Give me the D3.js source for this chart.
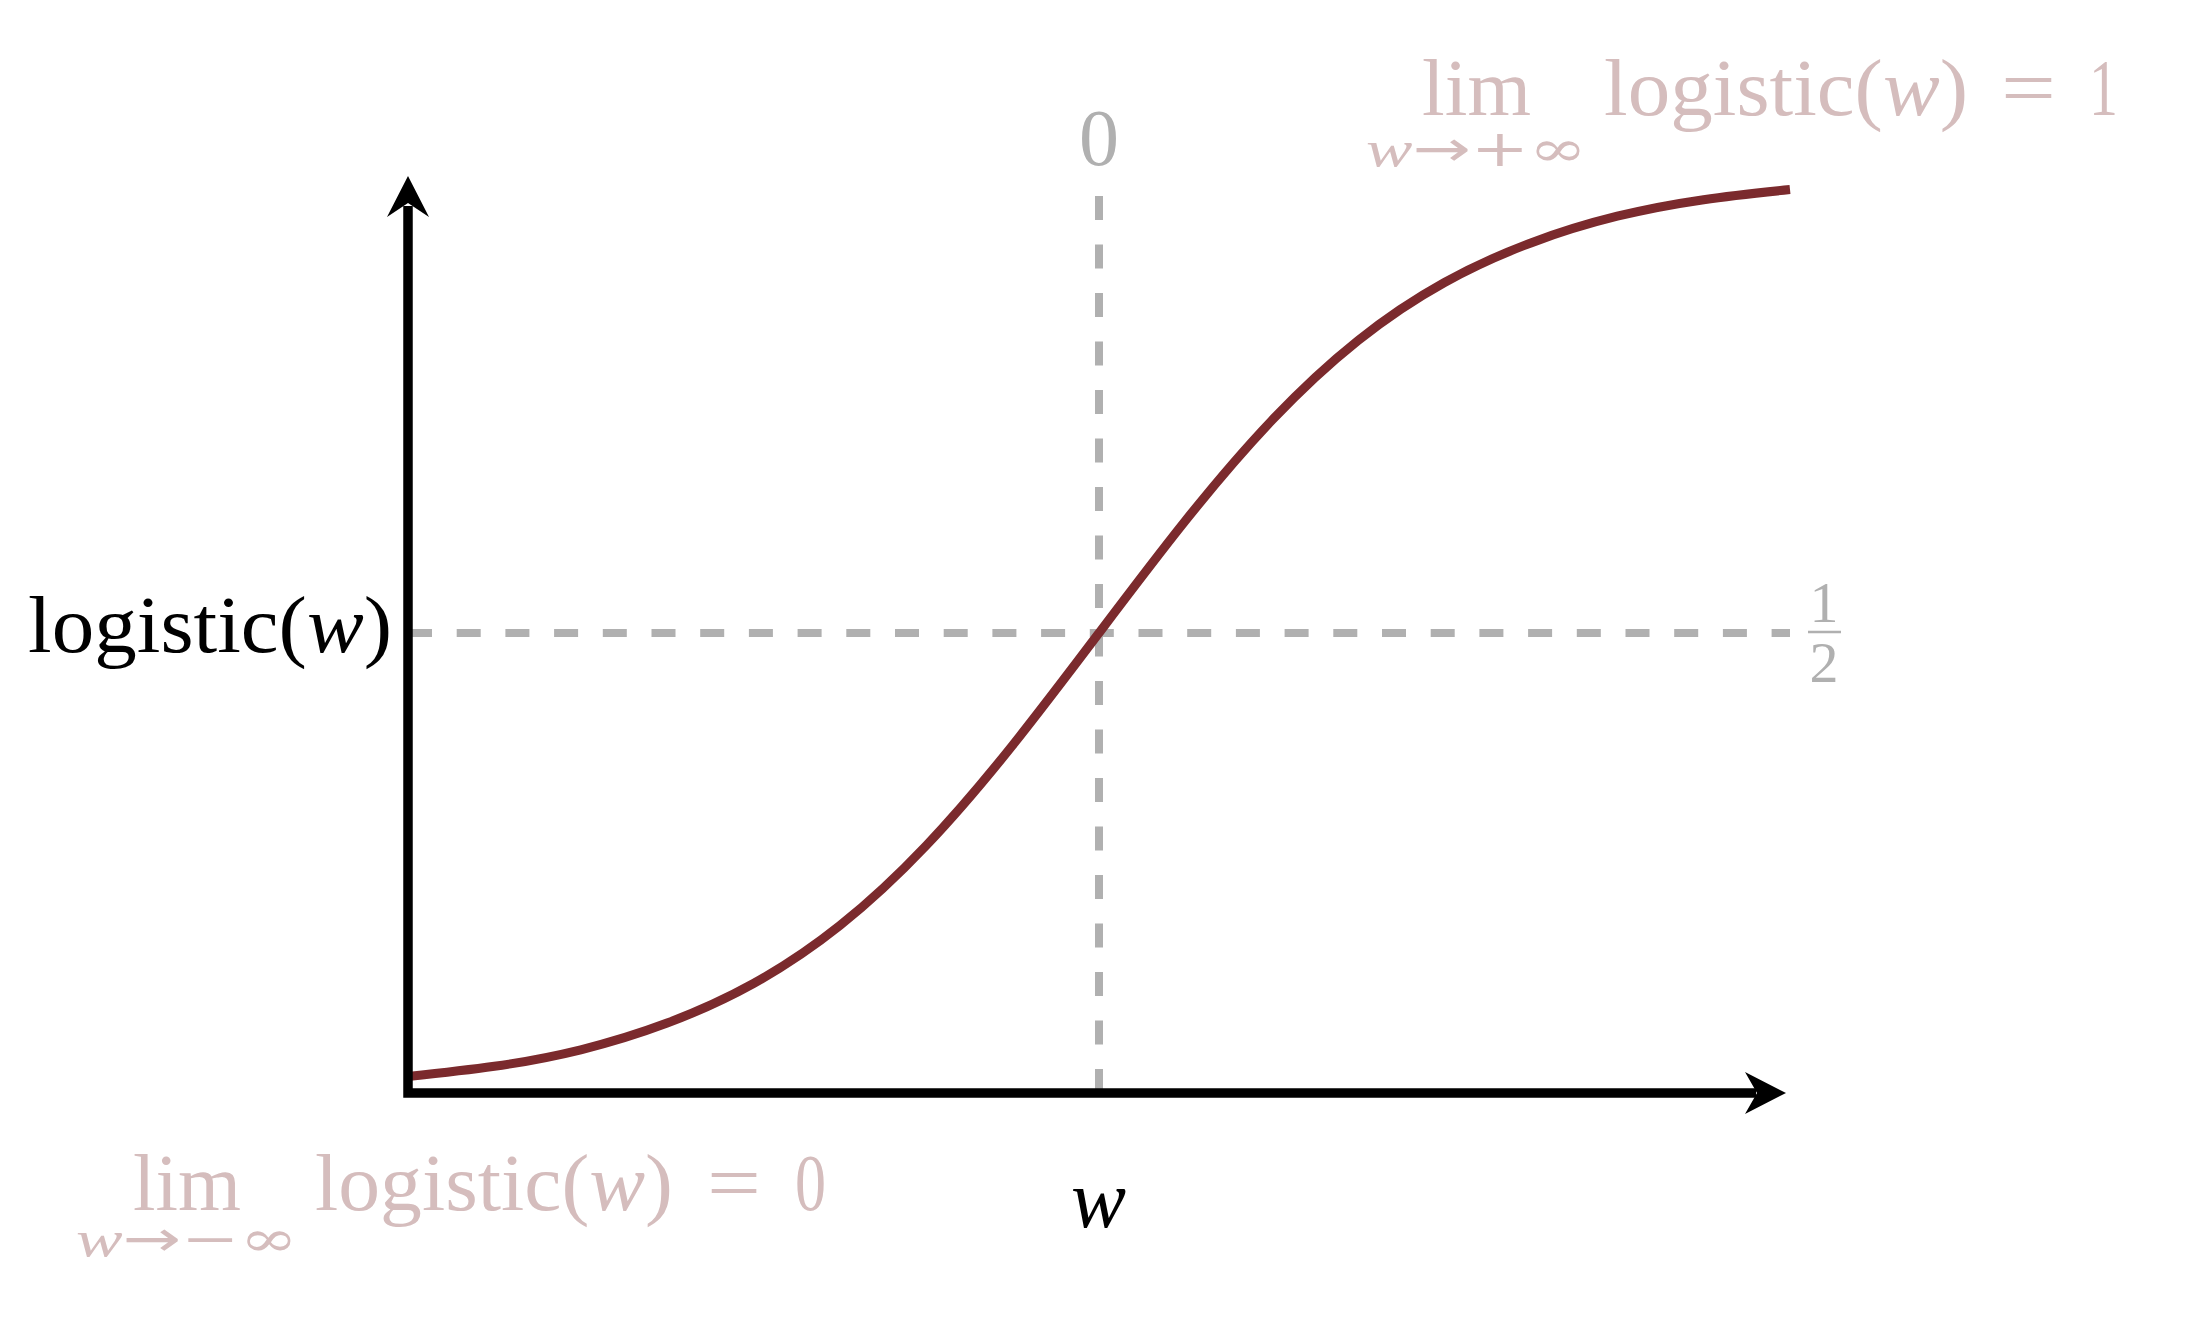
<!DOCTYPE html>
<html>
<head>
<meta charset="utf-8">
<script src="https://cdn.jsdelivr.net/npm/d3@7"></script>
<style>
  html, body { margin: 0; padding: 0; background: #fff; }
  svg { display: block; }
  text { font-family: "Liberation Serif", "DejaVu Serif", serif; }
</style>
</head>
<body>
<svg id="chart" width="2193" height="1324"></svg>
<script>
// ---- data ----
const wValues = [-4, -3.5, -3, -2.5, -2, -1.5, -1, -0.5, 0, 0.5, 1, 1.5, 2, 2.5, 3, 3.5, 4];
const logisticValues = [0.018, 0.029, 0.047, 0.076, 0.119, 0.182, 0.269, 0.378, 0.5, 0.622, 0.731, 0.818, 0.881, 0.924, 0.953, 0.971, 0.982];
const xDomain = [-4, 4];
const yDomain = [0, 1];
const xMarkerValue = 0;      // vertical guide at w = 0
const yMarkerValue = 0.5;    // horizontal guide at 1/2
const xTickLabel = "0";
const yTickLabel = ["1", "2"]; // fraction 1/2

const svg = d3.select("#chart");
const x = d3.scaleLinear().domain(xDomain).range([408, 1790]);
const y = d3.scaleLinear().domain(yDomain).range([1093, 173]);

const GRAY = "#b0b0b0";
const PINK = "#d5bdbd";
const CURVE = "#7b2a2d";

// ---- dashed guides ----
svg.append("path")
  .attr("d", `M${x(xDomain[0])},${y(yMarkerValue)} L${x(xDomain[1])},${y(yMarkerValue)}`)
  .attr("stroke", GRAY).attr("stroke-width", 8).attr("fill", "none")
  .attr("stroke-dasharray", "24 24.7");
svg.append("path")
  .attr("d", `M${x(xMarkerValue)},${y(0)} L${x(xMarkerValue)},196`)
  .attr("stroke", GRAY).attr("stroke-width", 8).attr("fill", "none")
  .attr("stroke-dasharray", "24 24.5");

// ---- logistic curve ----
const data = wValues.map((w, i) => ({ w, v: logisticValues[i] }));
svg.append("path")
  .datum(data)
  .attr("d", d3.line().x(d => x(d.w)).y(d => y(d.v)).curve(d3.curveNatural))
  .attr("stroke", CURVE).attr("stroke-width", 9).attr("fill", "none")
  .attr("stroke-linecap", "butt");

// ---- axes with arrows ----
const ax0 = x(xDomain[0]), ay0 = y(0);
const yTip = y(1) + 3, xTip = x(xDomain[1]) - 4;
svg.append("path")
  .attr("d", `M${ax0},${yTip + 30} L${ax0},${ay0} L${xTip - 30},${ay0}`)
  .attr("stroke", "#000").attr("stroke-width", 9.5).attr("fill", "none")
  .attr("stroke-linejoin", "miter").attr("stroke-linecap", "butt");
svg.append("path")
  .attr("d", `M${ax0},${yTip} L${ax0 + 21},${yTip + 41} L${ax0},${yTip + 27} L${ax0 - 21},${yTip + 41} Z`)
  .attr("fill", "#000");
svg.append("path")
  .attr("d", `M${xTip},${ay0} L${xTip - 41},${ay0 - 21} L${xTip - 29},${ay0} L${xTip - 41},${ay0 + 21} Z`)
  .attr("fill", "#000");

// ---- helper for math-like text ----
function mathText(parts, xPos, yPos, size, color, len, anchor) {
  const t = svg.append("text")
    .attr("x", xPos).attr("y", yPos)
    .attr("font-size", size).attr("fill", color)
    .attr("text-anchor", anchor || "start");
  parts.forEach(p => {
    const s = t.append("tspan").text(p.t).attr("font-style", p.i ? "italic" : "normal");
    if (p.f) s.attr("font-family", p.f);
  });
  if (len) t.attr("textLength", len).attr("lengthAdjust", "spacingAndGlyphs");
  return t;
}
const logisticW = [{ t: "logistic(" }, { t: "w", i: true }, { t: ")" }];

// y-axis label
mathText(logisticW, 28, 652, 80, "#000", 364);
// x-axis label
mathText([{ t: "w", i: true }], 1071, 1227, 82, "#000", 55);

// tick label 0 at top of vertical guide
mathText([{ t: xTickLabel }], x(xMarkerValue), 165, 80, GRAY, null, "middle");

// fraction 1/2 at end of horizontal guide
const fx = 1824;
mathText([{ t: yTickLabel[0] }], fx, 622, 58, GRAY, null, "middle");
svg.append("line").attr("x1", 1808).attr("x2", 1841)
  .attr("y1", y(yMarkerValue) - 1).attr("y2", y(yMarkerValue) - 1)
  .attr("stroke", GRAY).attr("stroke-width", 2.6);
mathText([{ t: yTickLabel[1] }], fx, 682, 58, GRAY, null, "middle");

// top-right limit
mathText([{ t: "lim" }], 1422, 115, 80, PINK, 109);
mathText([{ t: "w", i: true }, { t: "\u2192", f: "DejaVu Sans" }, { t: "+\u221E", f: "DejaVu Serif" }], 1366, 166, 50, PINK, 221);
mathText(logisticW, 1604, 115, 80, PINK, 364);
mathText([{ t: "=" }], 2001, 115, 80, PINK, 55);
mathText([{ t: "1" }], 2089, 115, 80, PINK, 29);

// bottom-left limit
mathText([{ t: "lim" }], 133, 1210, 80, PINK, 108);
mathText([{ t: "w", i: true }, { t: "\u2192", f: "DejaVu Sans" }, { t: "\u2212\u221E", f: "DejaVu Serif" }], 76, 1256, 50, PINK, 222);
mathText(logisticW, 315, 1210, 80, PINK, 358);
mathText([{ t: "=" }], 707, 1210, 80, PINK, 54);
mathText([{ t: "0" }], 795, 1210, 80, PINK, 31);
</script>
</body>
</html>
